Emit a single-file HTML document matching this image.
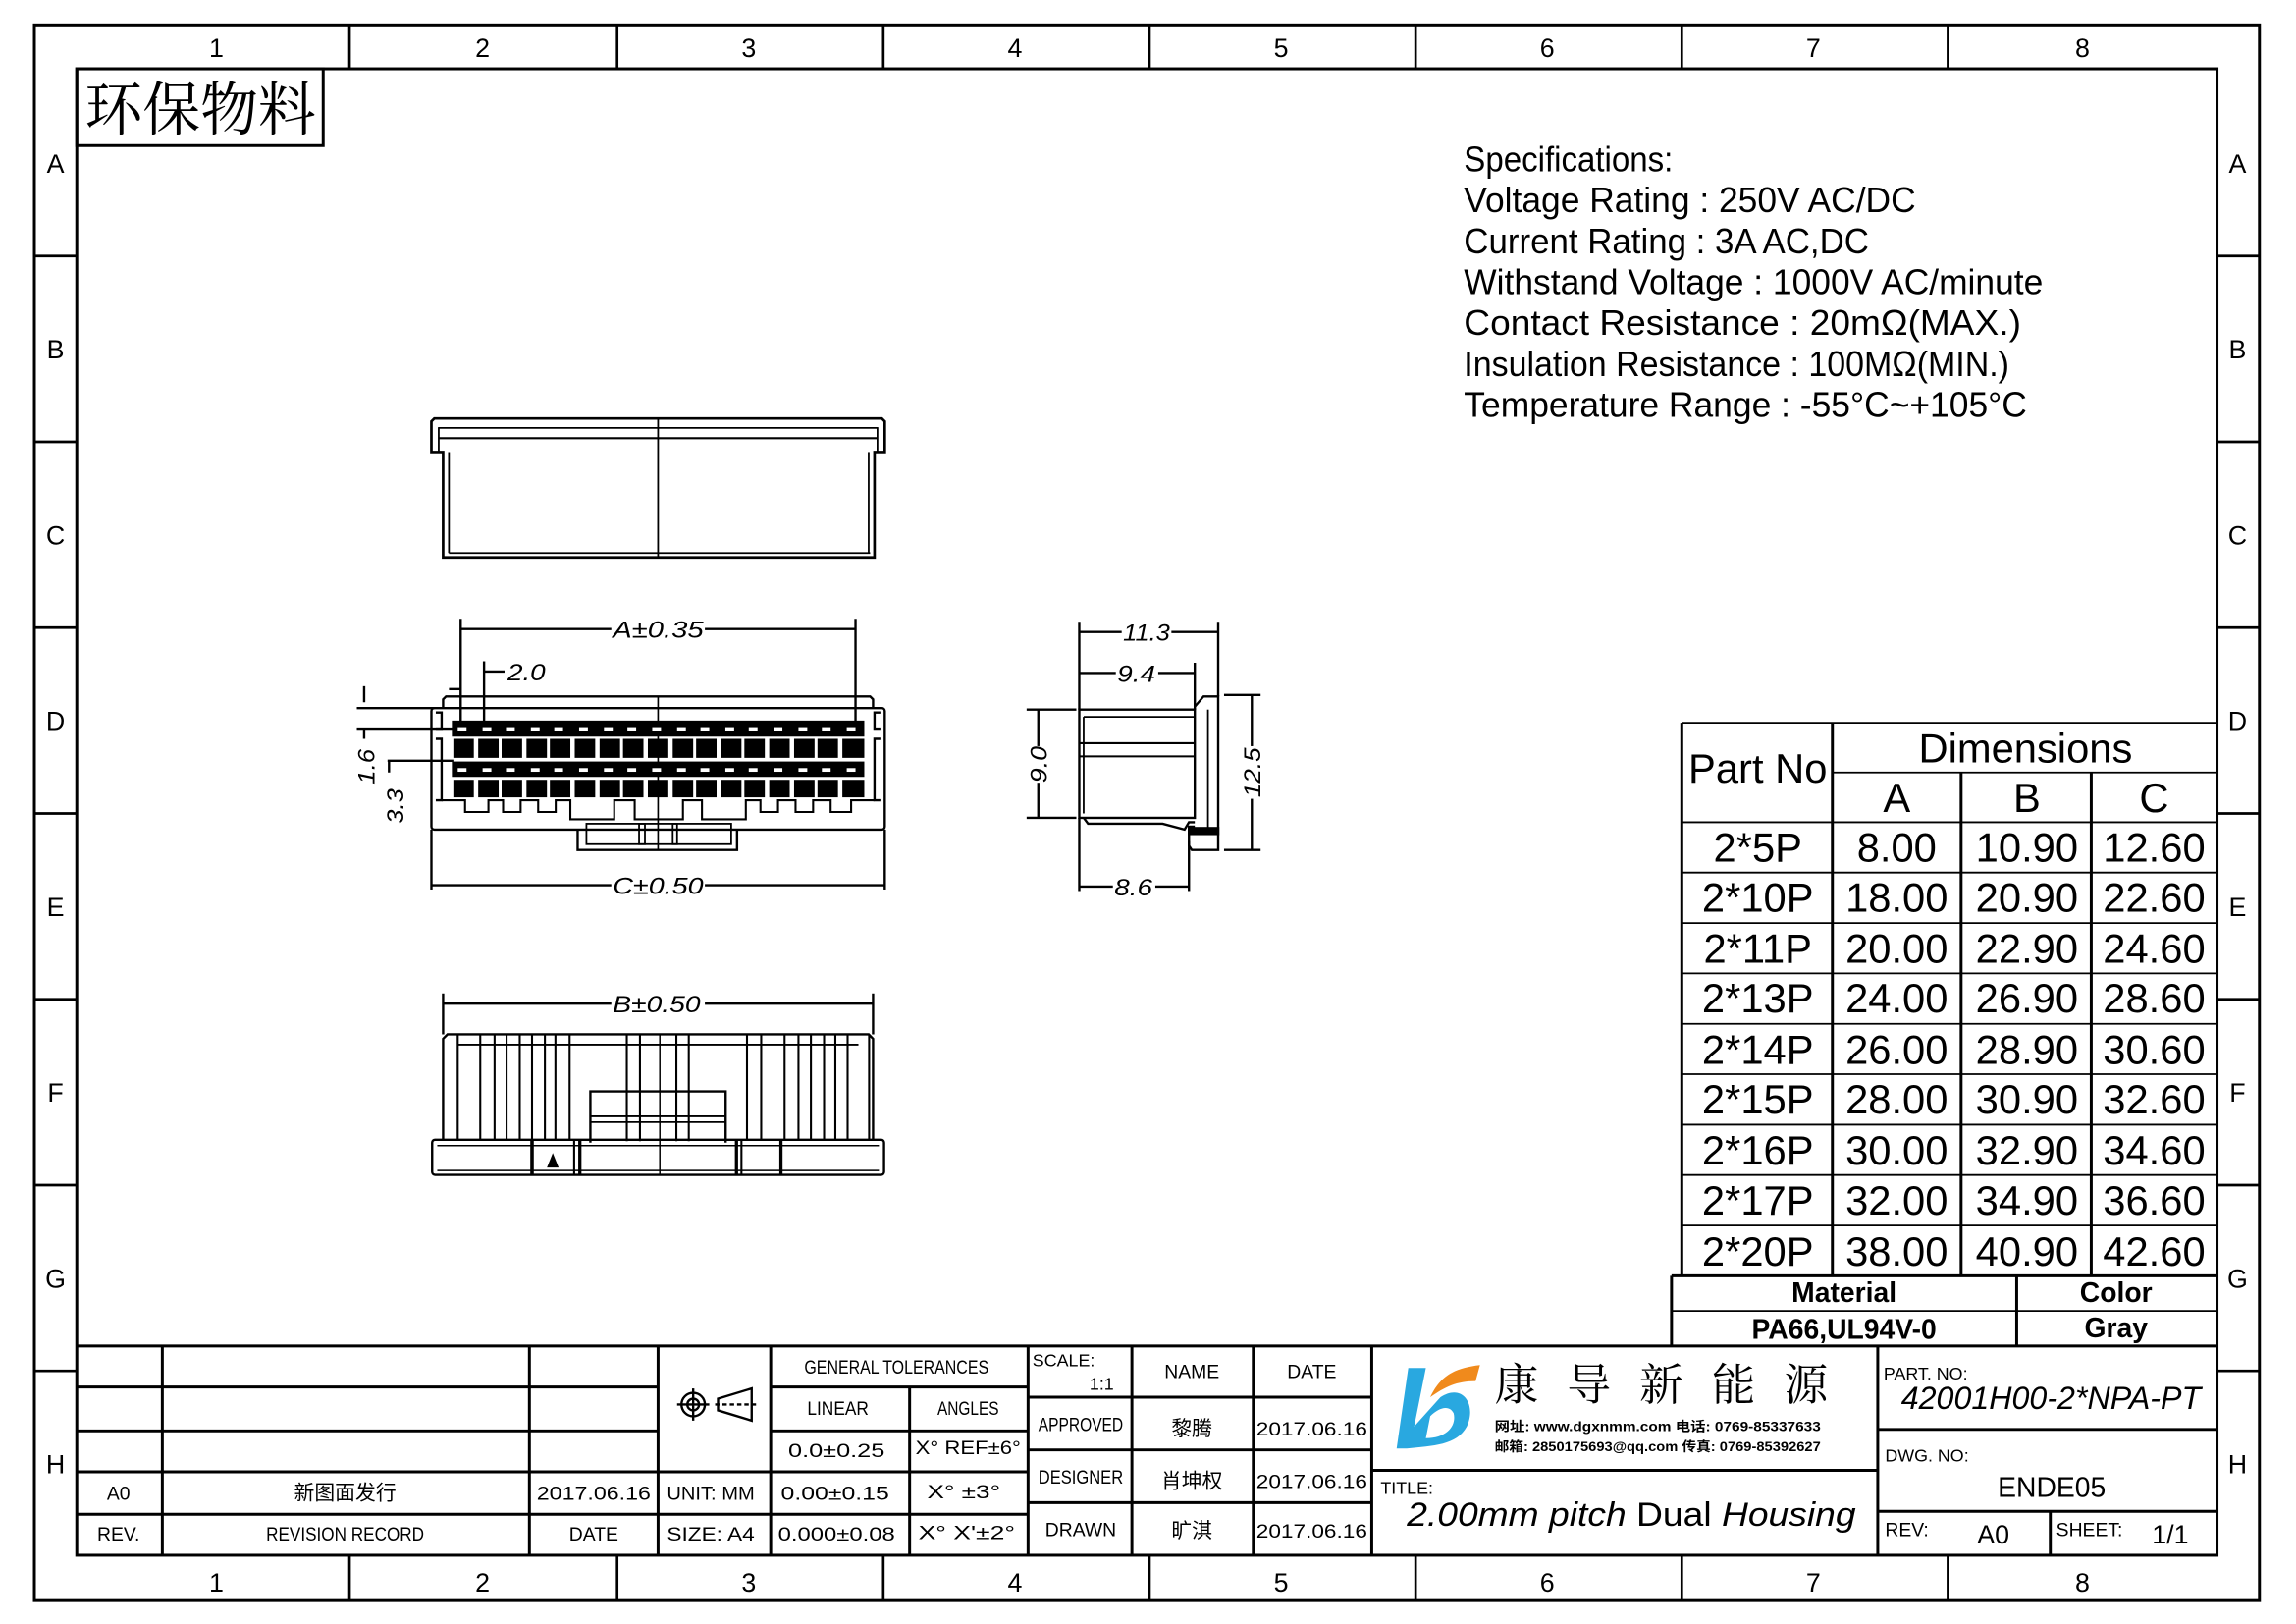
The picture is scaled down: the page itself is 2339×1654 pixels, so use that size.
<!DOCTYPE html>
<html><head><meta charset="utf-8"><style>
html,body{margin:0;padding:0;background:#fff;}
svg{display:block;}
text{font-family:"Liberation Sans","Noto Sans CJK SC",sans-serif;fill:#000;}
.s{font-family:"Liberation Serif","Noto Serif CJK SC",serif;}
.i{font-style:italic;}
</style></head><body>
<svg width="2339" height="1654" viewBox="0 0 1570 1110" preserveAspectRatio="none" xmlns="http://www.w3.org/2000/svg">
<rect width="1570" height="1110" fill="#fff"/>
<g fill="none" stroke="#000" stroke-width="2">
<rect x="23.5" y="17" width="1521.5" height="1077"/>
<rect x="52.5" y="47" width="1463.5" height="1016"/>
</g>
<g stroke="#000" stroke-width="1.8">
<line x1="239" y1="17" x2="239" y2="47"/><line x1="422" y1="17" x2="422" y2="47"/><line x1="604" y1="17" x2="604" y2="47"/><line x1="786" y1="17" x2="786" y2="47"/><line x1="968" y1="17" x2="968" y2="47"/><line x1="1150" y1="17" x2="1150" y2="47"/><line x1="1332" y1="17" x2="1332" y2="47"/>
<line x1="239" y1="1063" x2="239" y2="1094"/><line x1="422" y1="1063" x2="422" y2="1094"/><line x1="604" y1="1063" x2="604" y2="1094"/><line x1="786" y1="1063" x2="786" y2="1094"/><line x1="968" y1="1063" x2="968" y2="1094"/><line x1="1150" y1="1063" x2="1150" y2="1094"/><line x1="1332" y1="1063" x2="1332" y2="1094"/>
<line x1="23.5" y1="175" x2="52.5" y2="175"/><line x1="23.5" y1="302" x2="52.5" y2="302"/><line x1="23.5" y1="429" x2="52.5" y2="429"/><line x1="23.5" y1="556" x2="52.5" y2="556"/><line x1="23.5" y1="683" x2="52.5" y2="683"/><line x1="23.5" y1="810" x2="52.5" y2="810"/><line x1="23.5" y1="937" x2="52.5" y2="937"/>
<line x1="1516" y1="175" x2="1545" y2="175"/><line x1="1516" y1="302" x2="1545" y2="302"/><line x1="1516" y1="429" x2="1545" y2="429"/><line x1="1516" y1="556" x2="1545" y2="556"/><line x1="1516" y1="683" x2="1545" y2="683"/><line x1="1516" y1="810" x2="1545" y2="810"/><line x1="1516" y1="937" x2="1545" y2="937"/>
</g>
<g font-size="18" text-anchor="middle">
<text x="148" y="39">1</text><text x="330" y="39">2</text><text x="512" y="39">3</text><text x="694" y="39">4</text><text x="876" y="39">5</text><text x="1058" y="39">6</text><text x="1240" y="39">7</text><text x="1424" y="39">8</text>
<text x="148" y="1088">1</text><text x="330" y="1088">2</text><text x="512" y="1088">3</text><text x="694" y="1088">4</text><text x="876" y="1088">5</text><text x="1058" y="1088">6</text><text x="1240" y="1088">7</text><text x="1424" y="1088">8</text>
<text x="38" y="118">A</text><text x="38" y="245">B</text><text x="38" y="372">C</text><text x="38" y="499">D</text><text x="38" y="626">E</text><text x="38" y="753">F</text><text x="38" y="880">G</text><text x="38" y="1007">H</text>
<text x="1530" y="118">A</text><text x="1530" y="245">B</text><text x="1530" y="372">C</text><text x="1530" y="499">D</text><text x="1530" y="626">E</text><text x="1530" y="753">F</text><text x="1530" y="880">G</text><text x="1530" y="1007">H</text>
</g>
<rect x="52.5" y="47" width="168.5" height="52.5" fill="none" stroke="#000" stroke-width="2"/>
<text class="s" x="58" y="89" font-size="40" textLength="158" lengthAdjust="spacingAndGlyphs">环保物料</text>

<!-- Specs -->
<g font-size="24">
<text x="1001" y="117" textLength="143" lengthAdjust="spacingAndGlyphs">Specifications:</text>
<text x="1001" y="145" textLength="309" lengthAdjust="spacingAndGlyphs">Voltage  Rating : 250V AC/DC</text>
<text x="1001" y="173" textLength="277" lengthAdjust="spacingAndGlyphs">Current  Rating : 3A AC,DC</text>
<text x="1001" y="201" textLength="396" lengthAdjust="spacingAndGlyphs">Withstand  Voltage : 1000V AC/minute</text>
<text x="1001" y="229" textLength="381" lengthAdjust="spacingAndGlyphs">Contact  Resistance : 20mΩ(MAX.)</text>
<text x="1001" y="257" textLength="373" lengthAdjust="spacingAndGlyphs">Insulation  Resistance : 100MΩ(MIN.)</text>
<text x="1001" y="285" textLength="385" lengthAdjust="spacingAndGlyphs">Temperature  Range : -55°C~+105°C</text>
</g>

<!-- Table -->
<g stroke="#000" fill="none">
<line x1="1150" y1="494" x2="1150" y2="872" stroke-width="2"/>
<line x1="1253" y1="494" x2="1253" y2="872" stroke-width="2"/>
<line x1="1341" y1="528" x2="1341" y2="872" stroke-width="2"/>
<line x1="1430" y1="528" x2="1430" y2="872" stroke-width="2"/>
<line x1="1150" y1="494" x2="1516" y2="494" stroke-width="1.2"/>
<line x1="1253" y1="528" x2="1516" y2="528" stroke-width="1.2"/>
<g stroke-width="1.2">
<line x1="1150" y1="562" x2="1516" y2="562"/><line x1="1150" y1="596.4" x2="1516" y2="596.4"/><line x1="1150" y1="630.9" x2="1516" y2="630.9"/><line x1="1150" y1="665.3" x2="1516" y2="665.3"/><line x1="1150" y1="699.8" x2="1516" y2="699.8"/><line x1="1150" y1="734.2" x2="1516" y2="734.2"/><line x1="1150" y1="768.7" x2="1516" y2="768.7"/><line x1="1150" y1="803.1" x2="1516" y2="803.1"/><line x1="1150" y1="837.6" x2="1516" y2="837.6"/>
</g>
<line x1="1143" y1="872" x2="1516" y2="872" stroke-width="2"/>
<line x1="1143" y1="896" x2="1516" y2="896" stroke-width="1.2"/>
<line x1="1143" y1="872" x2="1143" y2="920" stroke-width="2"/>
<line x1="1379" y1="872" x2="1379" y2="920" stroke-width="2"/>
</g>
<g font-size="28" text-anchor="middle">
<text x="1202" y="535">Part  No</text>
<text x="1385" y="521">Dimensions</text>
<text x="1297" y="555">A</text><text x="1386" y="555">B</text><text x="1473" y="555">C</text>
</g>
<g font-size="28" text-anchor="middle">
<text x="1202" y="589">2*5P</text><text x="1297" y="589">8.00</text><text x="1386" y="589">10.90</text><text x="1473" y="589">12.60</text>
<text x="1202" y="623">2*10P</text><text x="1297" y="623">18.00</text><text x="1386" y="623">20.90</text><text x="1473" y="623">22.60</text>
<text x="1202" y="658">2*11P</text><text x="1297" y="658">20.00</text><text x="1386" y="658">22.90</text><text x="1473" y="658">24.60</text>
<text x="1202" y="692">2*13P</text><text x="1297" y="692">24.00</text><text x="1386" y="692">26.90</text><text x="1473" y="692">28.60</text>
<text x="1202" y="727">2*14P</text><text x="1297" y="727">26.00</text><text x="1386" y="727">28.90</text><text x="1473" y="727">30.60</text>
<text x="1202" y="761">2*15P</text><text x="1297" y="761">28.00</text><text x="1386" y="761">30.90</text><text x="1473" y="761">32.60</text>
<text x="1202" y="796">2*16P</text><text x="1297" y="796">30.00</text><text x="1386" y="796">32.90</text><text x="1473" y="796">34.60</text>
<text x="1202" y="830">2*17P</text><text x="1297" y="830">32.00</text><text x="1386" y="830">34.90</text><text x="1473" y="830">36.60</text>
<text x="1202" y="865">2*20P</text><text x="1297" y="865">38.00</text><text x="1386" y="865">40.90</text><text x="1473" y="865">42.60</text>
</g>
<g font-size="19" text-anchor="middle" font-weight="bold">
<text x="1261" y="890">Material</text><text x="1447" y="890">Color</text>
<text x="1261" y="915">PA66,UL94V-0</text><text x="1447" y="914">Gray</text>
</g>

<!-- Top view -->
<g fill="none" stroke="#000" stroke-width="1.8">
<path d="M303 381 L303 309 L295 309 L295 288 L297 286 L603 286 L605 288 L605 309 L598 309 L598 381 Z"/>
<line x1="300" y1="292.5" x2="600" y2="292.5" stroke-width="1.2"/>
<line x1="300" y1="299.5" x2="600" y2="299.5" stroke-width="1.4"/>
<line x1="300" y1="292" x2="300" y2="309" stroke-width="1.2"/><line x1="600" y1="292" x2="600" y2="309" stroke-width="1.2"/>
<line x1="307" y1="378" x2="595" y2="378" stroke-width="1.2"/>
<line x1="307" y1="309" x2="307" y2="378" stroke-width="1.2"/><line x1="594" y1="309" x2="594" y2="378" stroke-width="1.2"/>
<line x1="450" y1="286" x2="450" y2="381" stroke-width="1.2"/>
</g>

<!-- Front view -->
<g fill="none" stroke="#000" stroke-width="1.6">
<line x1="315" y1="423" x2="315" y2="493"/><line x1="585" y1="423" x2="585" y2="493"/>
<line x1="315" y1="430" x2="418" y2="430"/><line x1="482" y1="430" x2="585" y2="430"/>
<line x1="331" y1="452" x2="331" y2="493"/><line x1="331" y1="459" x2="345" y2="459"/>
<line x1="307" y1="471" x2="315" y2="471"/>
<line x1="249" y1="469" x2="249" y2="480"/>
<line x1="244" y1="484" x2="297" y2="484"/>
<line x1="244" y1="498" x2="310" y2="498"/>
<line x1="265" y1="520" x2="310" y2="520"/>
<line x1="249" y1="498" x2="249" y2="505"/>
<line x1="266" y1="520" x2="266" y2="528"/>
<rect x="295" y="484" width="310" height="83" rx="2"/>
<path d="M303 484 L303 478 L305 476 L595 476 L597 478 L597 484"/>
<path d="M298 487 L302 487 L302 498 L298 498 M298 505 L302 505 L302 547 L298 547"/>
<path d="M602 487 L598 487 L598 498 L602 498 M602 505 L598 505 L598 547 L602 547"/>
<path d="M395 567 L395 581 L504 581 L504 567"/>
<rect x="401" y="563" width="40" height="14" stroke-width="1.2"/><rect x="437" y="563" width="26" height="14" stroke-width="1.2"/><rect x="460" y="563" width="40" height="14" stroke-width="1.2"/>
<line x1="450" y1="476" x2="450" y2="581" stroke-width="1.1"/>
<line x1="295" y1="567" x2="295" y2="608"/><line x1="605" y1="567" x2="605" y2="608"/>
<line x1="295" y1="605" x2="418" y2="605"/><line x1="482" y1="605" x2="605" y2="605"/>
<path d="M302 547 L318 547 L318 555 L334 555 L334 547 L344 547 L344 555 L356 555 L356 547 L368 547 L368 555 L380 555 L380 547 L390 547 L390 560 L420 560 L420 547 L434 547 L434 560 L467 560 L467 547 L480 547 L480 560 L510 560 L510 547 L520 547 L520 555 L532 555 L532 547 L544 547 L544 555 L556 555 L556 547 L568 547 L568 555 L582 555 L582 547 L598 547" stroke-width="1.4"/>
</g>
<g fill="#000">
<rect x="309" y="492.5" width="282" height="11"/>
<rect x="309" y="520.5" width="282" height="10.5"/>
</g>
<g fill="#000">
<rect x="310" y="505" width="14" height="13"/><rect x="327" y="505" width="14" height="13"/><rect x="343" y="505" width="14" height="13"/><rect x="360" y="505" width="14" height="13"/><rect x="376" y="505" width="14" height="13"/><rect x="393" y="505" width="14" height="13"/><rect x="410" y="505" width="14" height="13"/><rect x="426" y="505" width="14" height="13"/><rect x="443" y="505" width="14" height="13"/><rect x="460" y="505" width="14" height="13"/><rect x="476" y="505" width="14" height="13"/><rect x="493" y="505" width="14" height="13"/><rect x="509" y="505" width="14" height="13"/><rect x="526" y="505" width="14" height="13"/><rect x="543" y="505" width="14" height="13"/><rect x="559" y="505" width="14" height="13"/><rect x="576" y="505" width="15" height="13"/>
<rect x="310" y="533" width="14" height="12"/><rect x="327" y="533" width="14" height="12"/><rect x="343" y="533" width="14" height="12"/><rect x="360" y="533" width="14" height="12"/><rect x="376" y="533" width="14" height="12"/><rect x="393" y="533" width="14" height="12"/><rect x="410" y="533" width="14" height="12"/><rect x="426" y="533" width="14" height="12"/><rect x="443" y="533" width="14" height="12"/><rect x="460" y="533" width="14" height="12"/><rect x="476" y="533" width="14" height="12"/><rect x="493" y="533" width="14" height="12"/><rect x="509" y="533" width="14" height="12"/><rect x="526" y="533" width="14" height="12"/><rect x="543" y="533" width="14" height="12"/><rect x="559" y="533" width="14" height="12"/><rect x="576" y="533" width="15" height="12"/>
</g>
<g fill="#fff">
<rect x="313" y="497" width="6" height="2.5"/><rect x="330" y="497" width="6" height="2.5"/><rect x="346" y="497" width="6" height="2.5"/><rect x="363" y="497" width="6" height="2.5"/><rect x="379" y="497" width="6" height="2.5"/><rect x="396" y="497" width="6" height="2.5"/><rect x="413" y="497" width="6" height="2.5"/><rect x="429" y="497" width="6" height="2.5"/><rect x="446" y="497" width="6" height="2.5"/><rect x="463" y="497" width="6" height="2.5"/><rect x="479" y="497" width="6" height="2.5"/><rect x="496" y="497" width="6" height="2.5"/><rect x="512" y="497" width="6" height="2.5"/><rect x="529" y="497" width="6" height="2.5"/><rect x="546" y="497" width="6" height="2.5"/><rect x="562" y="497" width="6" height="2.5"/><rect x="579" y="497" width="6" height="2.5"/>
<rect x="313" y="525" width="6" height="2.5"/><rect x="330" y="525" width="6" height="2.5"/><rect x="346" y="525" width="6" height="2.5"/><rect x="363" y="525" width="6" height="2.5"/><rect x="379" y="525" width="6" height="2.5"/><rect x="396" y="525" width="6" height="2.5"/><rect x="413" y="525" width="6" height="2.5"/><rect x="429" y="525" width="6" height="2.5"/><rect x="446" y="525" width="6" height="2.5"/><rect x="463" y="525" width="6" height="2.5"/><rect x="479" y="525" width="6" height="2.5"/><rect x="496" y="525" width="6" height="2.5"/><rect x="512" y="525" width="6" height="2.5"/><rect x="529" y="525" width="6" height="2.5"/><rect x="546" y="525" width="6" height="2.5"/><rect x="562" y="525" width="6" height="2.5"/><rect x="579" y="525" width="6" height="2.5"/>
</g>
<g font-size="16" font-style="italic">
<text x="419" y="436" textLength="62" lengthAdjust="spacingAndGlyphs">A±0.35</text>
<text x="347" y="465" textLength="26" lengthAdjust="spacingAndGlyphs">2.0</text>
<text x="419" y="611" textLength="62" lengthAdjust="spacingAndGlyphs">C±0.50</text>
<text x="419" y="692" textLength="60" lengthAdjust="spacingAndGlyphs">B±0.50</text>
<text transform="translate(256,536) rotate(-90)" textLength="24" lengthAdjust="spacingAndGlyphs">1.6</text>
<text transform="translate(276,563) rotate(-90)" textLength="24" lengthAdjust="spacingAndGlyphs">3.3</text>
</g>

<!-- Bottom view -->
<g fill="none" stroke="#000" stroke-width="1.6">
<line x1="303" y1="679" x2="303" y2="707"/><line x1="597" y1="679" x2="597" y2="707"/>
<line x1="303" y1="686" x2="418" y2="686"/><line x1="482" y1="686" x2="597" y2="686"/>
<path d="M303 779 L303 710 L306 707 L594 707 L597 710 L597 779"/>
<line x1="313" y1="714" x2="587" y2="714" stroke-width="1.2"/>
<rect x="295.5" y="779" width="309" height="24" rx="2"/>
<line x1="299" y1="783" x2="601" y2="783" stroke-width="1"/>
<line x1="299" y1="800" x2="601" y2="800" stroke-width="1"/>
<line x1="363.8" y1="779" x2="363.8" y2="803" stroke-width="2.4"/>
<line x1="392.6" y1="779" x2="392.6" y2="803" stroke-width="1.4"/>
<line x1="396.5" y1="779" x2="396.5" y2="803" stroke-width="2.2"/>
<line x1="503.6" y1="779" x2="503.6" y2="803" stroke-width="2.2"/>
<line x1="507" y1="779" x2="507" y2="803" stroke-width="1.4"/>
<line x1="534" y1="779" x2="534" y2="803" stroke-width="2.2"/>
<g stroke-width="1.4">
<line x1="313" y1="707" x2="313" y2="779"/><line x1="328.4" y1="707" x2="328.4" y2="779"/><line x1="338.2" y1="707" x2="338.2" y2="779"/><line x1="346.4" y1="707" x2="346.4" y2="779"/><line x1="355.4" y1="707" x2="355.4" y2="779"/><line x1="363.8" y1="707" x2="363.8" y2="779"/><line x1="372.6" y1="707" x2="372.6" y2="779"/><line x1="379.8" y1="707" x2="379.8" y2="779"/><line x1="389.5" y1="707" x2="389.5" y2="779"/>
<line x1="428.6" y1="707" x2="428.6" y2="780"/><line x1="437.6" y1="707" x2="437.6" y2="780"/><line x1="462.5" y1="707" x2="462.5" y2="780"/><line x1="471" y1="707" x2="471" y2="780"/>
<line x1="510.8" y1="707" x2="510.8" y2="779"/><line x1="520.5" y1="707" x2="520.5" y2="779"/><line x1="536.5" y1="707" x2="536.5" y2="779"/><line x1="546" y1="707" x2="546" y2="779"/><line x1="554.5" y1="707" x2="554.5" y2="779"/><line x1="563.5" y1="707" x2="563.5" y2="779"/><line x1="571.2" y1="707" x2="571.2" y2="779"/><line x1="579.6" y1="707" x2="579.6" y2="779"/><line x1="594.3" y1="707" x2="594.3" y2="779"/>
</g>
<path d="M403.7 781 L403.7 746 L496.2 746 L496.2 781"/>
<line x1="403.7" y1="763" x2="496.2" y2="763" stroke-width="1.2"/>
<line x1="403.7" y1="767" x2="496.2" y2="767" stroke-width="1.2"/>
<line x1="451.2" y1="707" x2="451.2" y2="803" stroke-width="1"/>
</g>
<path d="M374 798 L378 788 L382 798 Z" fill="#000"/>

<!-- Side view -->
<g fill="none" stroke="#000" stroke-width="1.6">
<line x1="738" y1="425" x2="738" y2="485"/><line x1="833" y1="425" x2="833" y2="476"/><line x1="817" y1="453" x2="817" y2="485"/>
<line x1="738" y1="432" x2="767" y2="432"/><line x1="801" y1="432" x2="833" y2="432"/>
<line x1="738" y1="460" x2="763" y2="460"/><line x1="792" y1="460" x2="817" y2="460"/>
<rect x="738" y="485" width="79" height="74"/>
<line x1="741" y1="490" x2="817" y2="490" stroke-width="1.2"/>
<line x1="738" y1="508" x2="817" y2="508" stroke-width="1.4"/>
<line x1="738" y1="517" x2="817" y2="517" stroke-width="1.4"/>
<line x1="741" y1="490" x2="741" y2="556" stroke-width="1.2"/>
<path d="M741 559 L744 563 L795 563 L810 567 L813 562 L817 562"/>
<path d="M817 483 L823 476 L833 476 L833 581 L815 581 L813 578 L813 565 L817 565"/>
<line x1="826" y1="485" x2="826" y2="567" stroke-width="1.2"/>
<rect x="813" y="566" width="20" height="4" fill="#000"/>
<line x1="738" y1="559" x2="738" y2="609"/><line x1="813" y1="575" x2="813" y2="609"/>
<line x1="738" y1="606" x2="761" y2="606"/><line x1="790" y1="606" x2="813" y2="606"/>
<line x1="702" y1="485" x2="736" y2="485"/><line x1="702" y1="559" x2="736" y2="559"/>
<line x1="710" y1="485" x2="710" y2="510"/><line x1="710" y1="535" x2="710" y2="559"/>
<line x1="837" y1="475" x2="862" y2="475"/><line x1="837" y1="581" x2="862" y2="581"/>
<line x1="856" y1="475" x2="856" y2="510"/><line x1="856" y1="546" x2="856" y2="581"/>
</g>
<g font-size="16" font-style="italic">
<text x="768" y="438" textLength="32" lengthAdjust="spacingAndGlyphs">11.3</text>
<text x="764" y="466" textLength="26" lengthAdjust="spacingAndGlyphs">9.4</text>
<text x="762" y="612" textLength="26" lengthAdjust="spacingAndGlyphs">8.6</text>
<text transform="translate(716,535) rotate(-90)" textLength="25" lengthAdjust="spacingAndGlyphs">9.0</text>
<text transform="translate(862,545) rotate(-90)" textLength="34" lengthAdjust="spacingAndGlyphs">12.5</text>
</g>

<!-- Title block -->
<g stroke="#000" stroke-width="2" fill="none">
<line x1="52.5" y1="920" x2="1516" y2="920"/>
<line x1="52.5" y1="948" x2="450" y2="948"/>
<line x1="52.5" y1="978" x2="450" y2="978"/>
<line x1="52.5" y1="1006" x2="703" y2="1006"/>
<line x1="52.5" y1="1035" x2="703" y2="1035"/>
<line x1="527" y1="948" x2="703" y2="948"/>
<line x1="527" y1="978" x2="703" y2="978"/>
<line x1="111" y1="920" x2="111" y2="1063"/>
<line x1="362" y1="920" x2="362" y2="1063"/>
<line x1="450" y1="920" x2="450" y2="1063"/>
<line x1="527" y1="920" x2="527" y2="1063"/>
<line x1="622" y1="948" x2="622" y2="1063"/>
<line x1="703" y1="920" x2="703" y2="1063"/>
<line x1="774" y1="920" x2="774" y2="1063"/>
<line x1="857" y1="920" x2="857" y2="1063"/>
<line x1="938" y1="920" x2="938" y2="1063"/>
<line x1="703" y1="955" x2="938" y2="955"/>
<line x1="703" y1="991" x2="938" y2="991"/>
<line x1="703" y1="1027" x2="938" y2="1027"/>
<line x1="938" y1="1005" x2="1284" y2="1005"/>
<line x1="1284" y1="920" x2="1284" y2="1063"/>
<line x1="1284" y1="977" x2="1516" y2="977"/>
<line x1="1284" y1="1033" x2="1516" y2="1033"/>
<line x1="1402" y1="1033" x2="1402" y2="1063"/>
</g>
<g class="s" font-size="13" text-anchor="middle">
<text x="613" y="939" textLength="126" lengthAdjust="spacingAndGlyphs">GENERAL TOLERANCES</text>
<text x="573" y="967" textLength="42" lengthAdjust="spacingAndGlyphs">LINEAR</text>
<text x="662" y="967" textLength="42" lengthAdjust="spacingAndGlyphs">ANGLES</text>
<text x="572" y="996" textLength="66" lengthAdjust="spacingAndGlyphs">0.0±0.25</text>
<text x="662" y="994" textLength="72" lengthAdjust="spacingAndGlyphs">X° REF±6°</text>
<text x="571" y="1025" textLength="74" lengthAdjust="spacingAndGlyphs">0.00±0.15</text>
<text x="659" y="1024" textLength="50" lengthAdjust="spacingAndGlyphs">X° ±3°</text>
<text x="572" y="1053" textLength="80" lengthAdjust="spacingAndGlyphs">0.000±0.08</text>
<text x="661" y="1052" textLength="66" lengthAdjust="spacingAndGlyphs">X° X'±2°</text>
<text x="81" y="1025">A0</text>
<text x="81" y="1053">REV.</text>
<text x="236" y="1053" textLength="108" lengthAdjust="spacingAndGlyphs">REVISION RECORD</text>
<text x="406" y="1053">DATE</text>
<text x="406" y="1025" textLength="78" lengthAdjust="spacingAndGlyphs">2017.06.16</text>
<text x="486" y="1025" textLength="60" lengthAdjust="spacingAndGlyphs">UNIT: MM</text>
<text x="486" y="1053" textLength="60" lengthAdjust="spacingAndGlyphs">SIZE: A4</text>
<text x="815" y="942">NAME</text>
<text x="897" y="942">DATE</text>
<text x="739" y="978" textLength="58" lengthAdjust="spacingAndGlyphs">APPROVED</text>
<text x="739" y="1014" textLength="58" lengthAdjust="spacingAndGlyphs">DESIGNER</text>
<text x="739" y="1050">DRAWN</text>
<text x="897" y="981" textLength="76" lengthAdjust="spacingAndGlyphs">2017.06.16</text>
<text x="897" y="1017" textLength="76" lengthAdjust="spacingAndGlyphs">2017.06.16</text>
<text x="897" y="1051" textLength="76" lengthAdjust="spacingAndGlyphs">2017.06.16</text>
</g>
<g class="s" font-size="14">
<text x="236" y="1025" text-anchor="middle">新图面发行</text>
<text x="815" y="981" text-anchor="middle">黎腾</text>
<text x="815" y="1017" text-anchor="middle">肖坤权</text>
<text x="815" y="1051" text-anchor="middle">旷淇</text>
<text x="706" y="934" font-size="12">SCALE:</text>
<text x="745" y="950" font-size="12">1:1</text>
<text x="944" y="1021" font-size="12">TITLE:</text>
<text x="1288" y="943" font-size="12">PART. NO:</text>
<text x="1289" y="999" font-size="12">DWG. NO:</text>
<text x="1289" y="1050" font-size="13">REV:</text>
<text x="1406" y="1050" font-size="13">SHEET:</text>
<text x="1363" y="1055" font-size="18" text-anchor="middle">A0</text>
<text x="1484" y="1055" font-size="18" text-anchor="middle">1/1</text>
<text x="1403" y="1023" font-size="19" text-anchor="middle">ENDE05</text>
<text x="1300" y="963" font-size="22" font-style="italic" textLength="205" lengthAdjust="spacingAndGlyphs">42001H00-2*NPA-PT</text>
<text x="962" y="1043" font-size="23" textLength="307" lengthAdjust="spacingAndGlyphs"><tspan font-style="italic">2.00mm pitch</tspan> Dual <tspan font-style="italic">Housing</tspan></text>
</g>
<!-- tolerance symbol -->
<g fill="none" stroke="#000" stroke-width="1.6">
<circle cx="474" cy="960" r="8"/><circle cx="474" cy="960" r="4"/>
<line x1="463" y1="960" x2="485" y2="960"/><line x1="474" y1="949" x2="474" y2="971"/>
<path d="M491 956 L514 949 L514 971 L491 964 Z"/>
<line x1="489" y1="960" x2="518" y2="960" stroke-dasharray="3 2"/>
</g>
<!-- Logo -->
<path d="M963 935 L975 935 L967 975 L985 955 C1000 945 1010 960 1003 975 C996 988 980 988 962 990 L955 990 Z M975 983 C990 983 996 974 994 966 C991 960 984 962 978 968 Z" fill="#29a8e0"/>
<path d="M978 955 C985 940 995 935 1012 933 L1009 944 C996 944 988 948 978 955 Z" fill="#f08a1c"/>
<text class="s" x="1022" y="957" font-size="30" textLength="228" lengthAdjust="spacing">康导新能源</text>
<g font-size="9" font-weight="bold">
<text x="1022" y="978" textLength="223" lengthAdjust="spacingAndGlyphs">网址: www.dgxnmm.com   电话: 0769-85337633</text>
<text x="1022" y="992" textLength="223" lengthAdjust="spacingAndGlyphs">邮箱: 2850175693@qq.com 传真: 0769-85392627</text>
</g>
</svg>
</body></html>
